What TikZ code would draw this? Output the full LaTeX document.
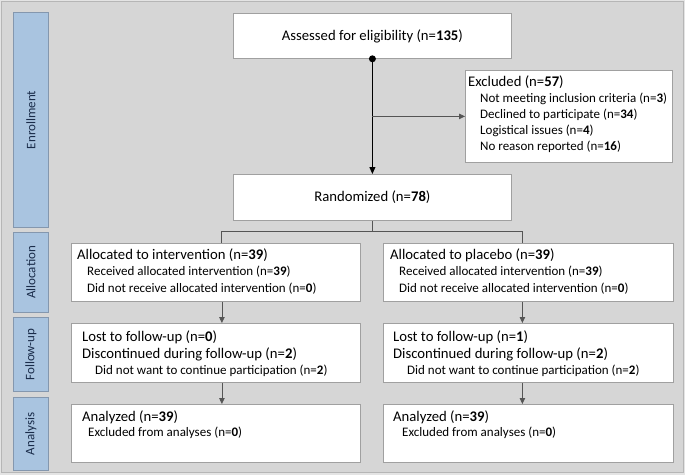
\documentclass[tikz,border=0pt]{standalone}
\usepackage{fontspec}
\setmainfont{Carlito}
\usetikzlibrary{arrows.meta,positioning}
\definecolor{outerbg}{HTML}{E4E4E4}
\definecolor{panelbg}{HTML}{D6D6D6}
\definecolor{barfill}{HTML}{A9C4E0}
\definecolor{barline}{HTML}{8497AE}
\definecolor{bartext}{HTML}{1A2C4A}
\definecolor{boxline}{HTML}{A0A0A0}
\definecolor{linkgray}{HTML}{555555}

\begin{document}
\begin{tikzpicture}[x=1pt, y=-1pt,
  box/.style={rectangle, draw=boxline, fill=white, line width=0.8pt,
              inner sep=0pt, anchor=north west, align=center,
              font=\fontsize{14.7}{17}\selectfont},
  bar/.style={rectangle, draw=barline, fill=barfill, line width=0.8pt,
              inner sep=0pt, anchor=north west, minimum width=35,
              text=bartext, font=\fontsize{13}{15}\selectfont},
  head/.style={anchor=west, inner sep=0pt, font=\fontsize{14.7}{17}\selectfont},
  item/.style={anchor=west, inner sep=0pt, font=\fontsize{13}{15}\selectfont},
  link/.style={draw=linkgray, line width=0.8pt},
  arr/.style={link, -{Triangle[length=6pt, width=5.5pt]}},
  mainarr/.style={draw=black, line width=0.9pt, -{Triangle[length=7pt, width=6pt]}}
]
\useasboundingbox (0,0) rectangle (685,475);
\fill[outerbg] (0,0) rectangle (685,475);
\filldraw[fill=panelbg, draw=panelbg!85!black, line width=0.6pt] (1.5,1.5) rectangle (683.5,472.5);

% stage bars
\node[bar, minimum height=215] (enrol) at (13,12) {\rotatebox{90}{Enrollment}};
\node[bar, minimum height=80] (allocbar) at (13,232) {\rotatebox{90}{Allocation}};
\node[bar, minimum height=74] (followbar) at (13,317) {\rotatebox{90}{Follow-up}};
\node[bar, minimum height=73] (anabar) at (13,397) {\rotatebox{90}{Analysis}};

% enrollment
\node[box, minimum width=278, minimum height=45] (assess) at (233,13) {Assessed for eligibility (n=\textbf{135})};
\node[box, minimum width=207, minimum height=92] (excl) at (465,70) {};
\node[box, minimum width=278, minimum height=46] (rand) at (233,174) {Randomized (n=\textbf{78})};

\node[head] (excl-h) at (468,82) {Excluded (n=\textbf{57})};
\node[item] (excl-a) at (480,99) {Not meeting inclusion criteria (n=\textbf{3})};
\node[item] (excl-b) at (480,115) {Declined to participate (n=\textbf{34})};
\node[item] (excl-c) at (480,131) {Logistical issues (n=\textbf{4})};
\node[item] (excl-d) at (480,147) {No reason reported (n=\textbf{16})};

% allocation
\node[box, minimum width=289, minimum height=58] (allocL) at (71,243) {};
\node[box, minimum width=290, minimum height=58] (allocR) at (383,243) {};
\node[head] (allocL-h) at (77,255) {Allocated to intervention (n=\textbf{39})};
\node[item] (allocL-a) at (87,272) {Received allocated intervention (n=\textbf{39})};
\node[item] (allocL-b) at (87,289) {Did not receive allocated intervention (n=\textbf{0})};
\node[head] (allocR-h) at (390,255) {Allocated to placebo (n=\textbf{39})};
\node[item] (allocR-a) at (399,272) {Received allocated intervention (n=\textbf{39})};
\node[item] (allocR-b) at (399,289) {Did not receive allocated intervention (n=\textbf{0})};

% follow-up
\node[box, minimum width=289, minimum height=59] (followL) at (71,323) {};
\node[box, minimum width=290, minimum height=59] (followR) at (383,323) {};
\node[head] (followL-h) at (82,337) {Lost to follow-up (n=\textbf{0})};
\node[head] (followL-a) at (82,354) {Discontinued during follow-up (n=\textbf{2})};
\node[item] (followL-b) at (95,371) {Did not want to continue participation (n=\textbf{2})};
\node[head] (followR-h) at (393,337) {Lost to follow-up (n=\textbf{1})};
\node[head] (followR-a) at (393,354) {Discontinued during follow-up (n=\textbf{2})};
\node[item] (followR-b) at (407,371) {Did not want to continue participation (n=\textbf{2})};

% analysis
\node[box, minimum width=289, minimum height=58] (anaL) at (71,404) {};
\node[box, minimum width=290, minimum height=58] (anaR) at (383,404) {};
\node[head] (anaL-h) at (82,417) {Analyzed (n=\textbf{39})};
\node[item] (anaL-a) at (88,433) {Excluded from analyses (n=\textbf{0})};
\node[head] (anaR-h) at (393,417) {Analyzed (n=\textbf{39})};
\node[item] (anaR-a) at (402,433) {Excluded from analyses (n=\textbf{0})};

% connectors
\draw[mainarr] (assess.south) -- (rand.north);
\fill[black] (assess.south) circle (3.5);
\coordinate (exsplit) at (assess.south |- excl.west);
\draw[arr] (exsplit) -- (excl.west);
\coordinate[below=11pt of rand.south] (split);
\draw[link] (rand.south) -- (split);
\draw[link] ([xshift=5pt]allocL.north) |- (split) -| ([xshift=-6pt]allocR.north);
\draw[arr] ([xshift=6pt]allocL.south) -- ([xshift=6pt]followL.north);
\draw[arr] ([xshift=6pt]followL.south) -- ([xshift=6pt]anaL.north);
\draw[arr] ([xshift=-6pt]allocR.south) -- ([xshift=-6pt]followR.north);
\draw[arr] ([xshift=-6pt]followR.south) -- ([xshift=-6pt]anaR.north);
\end{tikzpicture}
\end{document}
